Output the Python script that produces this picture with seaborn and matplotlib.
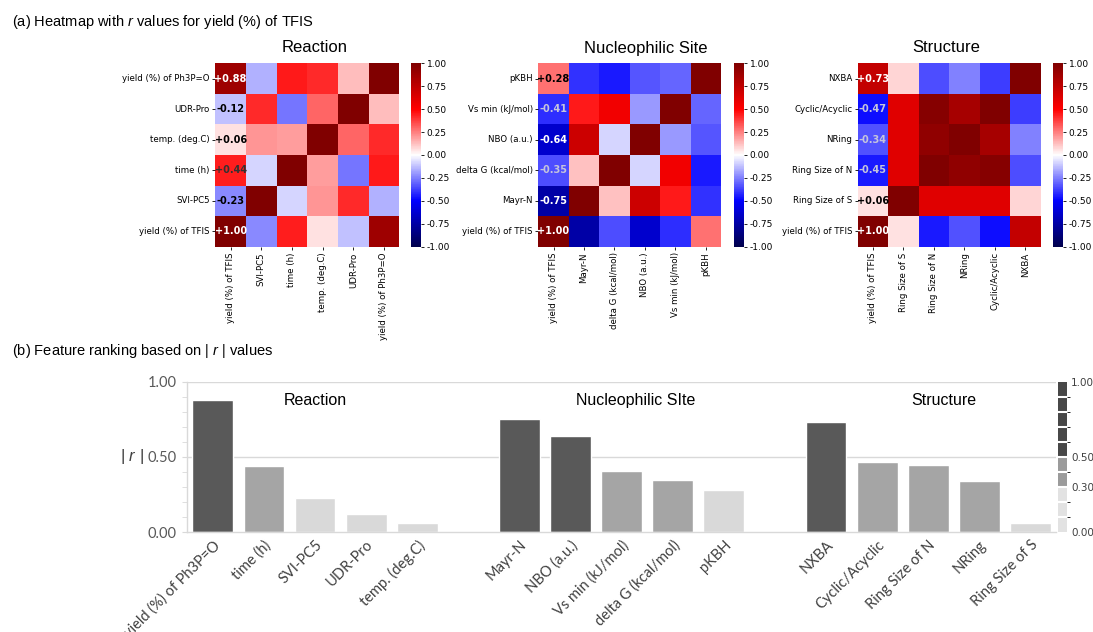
import numpy as np
import pandas as pd
import matplotlib
matplotlib.use("Agg")
import matplotlib.pyplot as plt
import matplotlib as mpl
import seaborn as sns
from matplotlib.colors import ListedColormap, BoundaryNorm

# ---------------- data ----------------
reaction_vars = ["yield (%) of TFIS", "SVI-PC5", "time (h)", "temp. (deg.C)", "UDR-Pro", "yield (%) of Ph3P=O"]
reaction_r = [
    [1.00, -0.23, 0.44, 0.06, -0.12, 0.88],
    [-0.23, 1.00, -0.08, 0.21, 0.42, -0.15],
    [0.44, -0.08, 1.00, 0.19, -0.27, 0.45],
    [0.06, 0.21, 0.19, 1.00, 0.30, 0.42],
    [-0.12, 0.42, -0.27, 0.30, 1.00, 0.13],
    [0.88, -0.15, 0.45, 0.42, 0.13, 1.00],
]

nucleo_vars = ["yield (%) of TFIS", "Mayr-N", "delta G (kcal/mol)", "NBO (a.u.)", "Vs min (kJ/mol)", "pKBH"]
nucleo_r = [
    [1.00, -0.75, -0.35, -0.64, -0.41, 0.28],
    [-0.75, 1.00, 0.12, 0.70, 0.45, -0.40],
    [-0.35, 0.12, 1.00, -0.08, 0.55, -0.45],
    [-0.64, 0.70, -0.08, 1.00, -0.20, -0.33],
    [-0.41, 0.45, 0.55, -0.20, 1.00, -0.30],
    [0.28, -0.40, -0.45, -0.33, -0.30, 1.00],
]

struct_vars = ["yield (%) of TFIS", "Ring Size of S", "Ring Size of N", "NRing", "Cyclic/Acyclic", "NXBA"]
struct_r = [
    [1.00, 0.06, -0.45, -0.34, -0.47, 0.73],
    [0.06, 1.00, 0.62, 0.62, 0.62, 0.08],
    [-0.45, 0.62, 1.00, 0.93, 0.97, -0.35],
    [-0.34, 0.62, 0.93, 1.00, 0.85, -0.25],
    [-0.47, 0.62, 0.97, 0.85, 1.00, -0.38],
    [0.73, 0.08, -0.35, -0.25, -0.38, 1.00],
]

heat_titles = ["Reaction", "Nucleophilic Site", "Structure"]

bar_reaction = ["yield (%) of Ph3P=O", "time (h)", "SVI-PC5", "UDR-Pro", "temp. (deg.C)"]
bar_reaction_r = [0.88, 0.44, 0.23, 0.12, 0.06]
bar_nucleo = ["Mayr-N", "NBO (a.u.)", "Vs min (kJ/mol)", "delta G (kcal/mol)", "pKBH"]
bar_nucleo_r = [0.75, 0.64, 0.41, 0.35, 0.28]
bar_struct = ["NXBA", "Cyclic/Acyclic", "Ring Size of N", "NRing", "Ring Size of S"]
bar_struct_r = [0.73, 0.47, 0.45, 0.34, 0.06]
bar_titles = ["Reaction", "Nucleophilic SIte", "Structure"]

# ---------------- figure ----------------
plt.rcParams["mathtext.fontset"] = "custom"
plt.rcParams["mathtext.it"] = "Liberation Sans:italic"
plt.rcParams["mathtext.rm"] = "Liberation Sans"

W, H = 1093, 632
fig = plt.figure(figsize=(W / 100, H / 100), dpi=100)


def ax_px(l, t, r, b):
    return fig.add_axes([l / W, 1 - b / H, (r - l) / W, (b - t) / H])


fig.text(12 / W, 1 - 22 / H, "(a) Heatmap with $r$ values for yield (%) of TFIS",
         family="Liberation Sans", fontsize=10.5, va="center", ha="left")
fig.text(12 / W, 1 - 351 / H, "(b) Feature ranking based on | $r$ | values",
         family="Liberation Sans", fontsize=10.5, va="center", ha="left")

heat_specs = [
    (reaction_vars, reaction_r, (215.3, 399.3), (410.7, 421.0), 315),
    (nucleo_vars, nucleo_r, (538.3, 721.0), (734.0, 744.3), 646),
    (struct_vars, struct_r, (857.7, 1040.7), (1052.7, 1063.0), 946),
]
top, bot = 63.3, 246.7


def ann_color(v):
    if abs(v) >= 0.6:
        return "white"
    if abs(v) < 0.3:
        return "black"
    if v > 0:
        return "#333333"
    return "#c4c4dc"


for (vars_, mat, (hl, hr), (cl, cr), tx), title in zip(heat_specs, heat_titles):
    df = pd.DataFrame(mat, index=vars_, columns=vars_)
    annot = np.full(df.shape, "", dtype=object)
    for i in range(len(vars_)):
        annot[i, 0] = f"{df.iloc[i, 0]:+.2f}"
    ax = ax_px(hl, top, hr, bot)
    cax = ax_px(cl, top, cr, bot)
    sns.heatmap(df, ax=ax, cbar_ax=cax, cmap="seismic", vmin=-1, vmax=1,
                annot=annot, fmt="", annot_kws={"fontsize": 7, "fontweight": "bold"},
                cbar_kws={"ticks": [-1, -0.75, -0.5, -0.25, 0, 0.25, 0.5, 0.75, 1.0],
                          "format": "%.2f"})
    ax.invert_yaxis()
    for t in ax.texts:
        txt = t.get_text()
        if txt:
            t.set_color(ann_color(float(txt)))
    ax.set_xticklabels(vars_, rotation=90, fontsize=6.2)
    ax.set_yticklabels(vars_, rotation=0, fontsize=6.2)
    ax.tick_params(length=2.5, width=0.6, pad=1.5)
    cax.tick_params(labelsize=6.5, length=2.5, width=0.6, pad=1.5)
    fig.text(tx / W, 1 - 48 / H, title, family="Liberation Sans", fontsize=12,
             ha="center", va="center")

# ---------------- bar chart ----------------
def level(v):
    if v >= 0.5:
        return "high"
    if v >= 0.3:
        return "mid"
    return "low"


feats = bar_reaction + bar_nucleo + bar_struct
vals = bar_reaction_r + bar_nucleo_r + bar_struct_r
bdf = pd.DataFrame({"feature": feats, "r": vals, "level": [level(v) for v in vals]})
order = bar_reaction + [" "] + bar_nucleo + ["  "] + bar_struct
pal = {"high": "#595959", "mid": "#a5a5a5", "low": "#d9d9d9"}

axb = ax_px(187.3, 381.7, 1056.0, 532.3)
sns.barplot(data=bdf, x="feature", y="r", hue="level", order=order,
            hue_order=["high", "mid", "low"], palette=pal, dodge=False,
            width=0.8, edgecolor="white", linewidth=1, legend=False, ax=axb)
axb.set_xlim(-0.5, len(order) - 0.5)
axb.set_ylim(0, 1)
axb.set_xlabel("")
for s in ["top", "right"]:
    axb.spines[s].set_visible(False)
for s in ["left", "bottom"]:
    axb.spines[s].set_color("#d9d9d9")
    axb.spines[s].set_linewidth(1)
axb.set_yticks([0, 0.5, 1.0])
axb.set_yticklabels(["0.00", "0.50", "1.00"], family="Lato", fontsize=10.5, color="#595959")
axb.set_yticks(np.arange(0, 1.01, 0.1), minor=True)
axb.tick_params(axis="y", which="both", length=3.5, color="#d9d9d9", pad=4)
axb.tick_params(axis="x", length=0, pad=4)
axb.set_axisbelow(True)
for yv in [0.5, 1.0]:
    axb.axhline(yv, color="#d9d9d9", lw=1, zorder=0)
axb.set_xticks(range(len(order)))
axb.set_xticklabels(order, rotation=45, ha="right", rotation_mode="anchor",
                    family="Lato", fontsize=10.5, color="#404040")
axb.set_ylabel("| $r$ |", rotation=0, family="Liberation Sans", fontsize=12,
               color="#404040", ha="right", va="center")
axb.yaxis.set_label_coords(-0.05, 0.5)
for xpos, t in zip([2.0, 8.28, 14.3], bar_titles):
    axb.text(xpos, 0.878, t, family="Liberation Sans", fontsize=11.5,
             ha="center", va="center")

# segmented scale at right
sax = ax_px(1057.7, 381.7, 1067.0, 532.3)
seg_colors = ["#e2e2e2"] * 3 + ["#9b9b9b"] * 2 + ["#484848"] * 5
cmap = ListedColormap(seg_colors)
bounds = np.linspace(0, 1, 11)
cb = mpl.colorbar.ColorbarBase(sax, cmap=cmap, norm=BoundaryNorm(bounds, cmap.N),
                               boundaries=bounds, ticks=[0, 0.3, 0.5, 1.0],
                               format="%.2f", drawedges=True)
cb.outline.set_visible(False)
cb.dividers.set_color("white")
cb.dividers.set_linewidth(1.5)
sax.tick_params(length=0, labelsize=7.5, labelcolor="#404040", pad=3)

fig.savefig("out.png", dpi=100)
